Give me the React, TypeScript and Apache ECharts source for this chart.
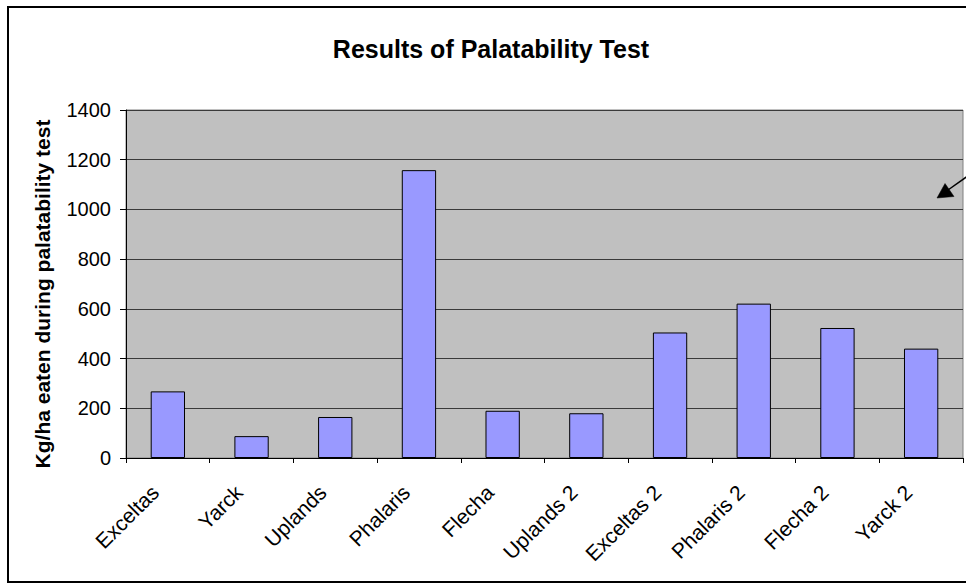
import React, { useEffect, useRef } from "react";
import * as echarts from "echarts";

const categories = ["Exceltas", "Yarck", "Uplands", "Phalaris", "Flecha", "Uplands 2", "Exceltas 2", "Phalaris 2", "Flecha 2", "Yarck 2"];
const kgEaten = [268, 88, 165, 1158, 190, 180, 505, 621, 523, 440];
const yTicks = { min: 0, max: 1400, interval: 200 };
const titleText = "Results of Palatability Test";
const yAxisName = "Kg/ha eaten during palatability test";

const FONT = "Liberation Sans, Arial, sans-serif";

export default function App() {
  const ref = useRef<HTMLDivElement>(null);
  useEffect(() => {
    if (!ref.current) return;
    const chart = echarts.init(ref.current, undefined, { renderer: "svg" });
    chart.setOption({
      animation: false,
      backgroundColor: "#ffffff",
      textStyle: { fontFamily: FONT },
      title: {
        text: titleText,
        left: 486,
        top: 31,
        textAlign: "center",
        textStyle: { fontFamily: FONT, fontSize: 25, fontWeight: "bold", color: "#000" },
      },
      grid: {
        left: 126,
        top: 110,
        right: 3,
        bottom: 125,
        show: true,
        backgroundColor: "#c0c0c0",
        borderColor: "#808080",
        borderWidth: 1,
      },
      xAxis: {
        type: "category",
        data: categories,
        axisLine: { show: true, lineStyle: { color: "#000", width: 1 } },
        axisTick: { show: true, length: 5, interval: 0, lineStyle: { color: "#000" } },
        axisLabel: {
          interval: 0,
          rotate: 45,
          fontSize: 21,
          color: "#000",
          fontFamily: FONT,
          margin: 18,
          padding: [0, 18, 0, 0],
        },
        splitLine: { show: false },
      },
      yAxis: {
        type: "value",
        min: yTicks.min,
        max: yTicks.max,
        interval: yTicks.interval,
        name: yAxisName,
        nameLocation: "middle",
        nameGap: 73,
        nameTextStyle: {
          fontFamily: FONT,
          fontSize: 21,
          fontWeight: "bold",
          color: "#000",
          padding: [0, 20, 0, 0],
        },
        axisLine: { show: true, lineStyle: { color: "#000", width: 1 } },
        axisTick: { show: true, length: 6, lineStyle: { color: "#000" } },
        axisLabel: {
          fontSize: 20,
          color: "#000",
          fontFamily: FONT,
          margin: 15,
          formatter: (v: number) => String(v),
        },
        splitLine: { show: true, lineStyle: { color: "#3a3a3a", width: 1 } },
      },
      series: [
        {
          type: "bar",
          data: kgEaten,
          barCategoryGap: "59%",
          itemStyle: { color: "#9999ff", borderColor: "#000", borderWidth: 1 },
        },
      ],
      graphic: [
        {
          type: "rect",
          z: -10,
          silent: true,
          shape: { x: 8, y: 7, width: 975, height: 575 },
          style: { fill: "none", stroke: "#000", lineWidth: 2 },
        },
        {
          type: "line",
          z: 100,
          silent: true,
          shape: { x1: 948, y1: 190, x2: 972, y2: 173 },
          style: { stroke: "#000", lineWidth: 1.5 },
        },
        {
          type: "polygon",
          z: 100,
          silent: true,
          shape: { points: [[937, 198], [945, 183.5], [954, 196.5]] },
          style: { fill: "#000", stroke: "#000", lineWidth: 0.5 },
        },
      ],
    });
    return () => chart.dispose();
  }, []);
  return <div ref={ref} style={{ position: "fixed", left: 0, top: 0, width: 966, height: 583 }} />;
}
